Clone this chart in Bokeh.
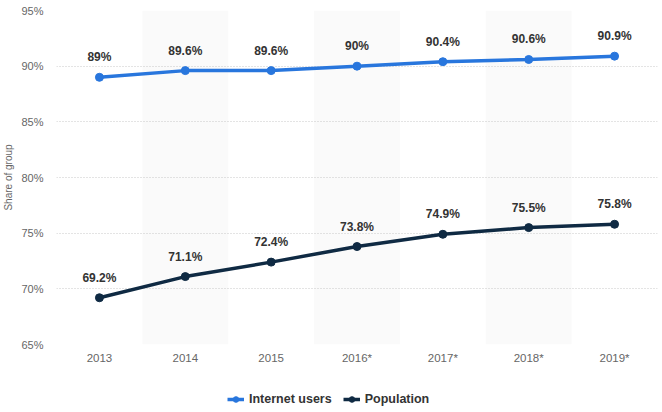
from bokeh.plotting import figure
from bokeh.layouts import column
from bokeh.models import (FactorRange, Range1d, FixedTicker, PrintfTickFormatter,
                          Legend, LegendItem)
from bokeh.core.properties import value
from bokeh.embed import file_html
from bokeh.resources import INLINE

years = ["2013", "2014", "2015", "2016*", "2017*", "2018*", "2019*"]
internet_users = [89.0, 89.6, 89.6, 90.0, 90.4, 90.6, 90.9]
population = [69.2, 71.1, 72.4, 73.8, 74.9, 75.5, 75.8]
internet_labels = ["89%", "89.6%", "89.6%", "90%", "90.4%", "90.6%", "90.9%"]
population_labels = ["69.2%", "71.1%", "72.4%", "73.8%", "74.9%", "75.5%", "75.8%"]
series_names = ["Internet users", "Population"]
shaded_years = ["2014", "2016*", "2018*"]
y_ticks = [65, 70, 75, 80, 85, 90, 95]
y_min, y_max = 65, 95

BLUE = "#2876dd"
NAVY = "#0f2a43"
FONT = "Liberation Sans"

p = figure(x_range=FactorRange(*years, range_padding=0),
           y_range=Range1d(y_min, y_max),
           width=662, height=385, output_backend="svg", toolbar_location=None,
           min_border_left=56, min_border_right=5, min_border_top=10,
           min_border_bottom=41)
p.outline_line_color = None
p.background_fill_color = "white"

# alternating bands
bands = p.vbar(x=shaded_years, top=y_max, bottom=y_min, width=1,
               fill_color="#fafafa", line_color=None)
bands.level = "image"

# grid
p.xgrid.visible = False
p.ygrid.grid_line_color = "#c8c8c8"
p.ygrid.grid_line_dash = "1 2"
p.ygrid.grid_line_width = 1

# axes
p.yaxis.ticker = FixedTicker(ticks=y_ticks)
p.yaxis.formatter = PrintfTickFormatter(format="%d%%")
for ax in (p.xaxis, p.yaxis):
    ax.axis_line_color = None
    ax.major_tick_line_color = None
    ax.minor_tick_line_color = None
    ax.major_tick_out = 0
    ax.major_tick_in = 0
    ax.minor_tick_out = 0
    ax.minor_tick_in = 0
    ax.major_label_text_font = FONT
    ax.major_label_text_color = "#666666"
p.yaxis.major_label_text_font_size = "11px"
p.yaxis.major_label_standoff = 13
p.yaxis.axis_label = "Share of group"
p.yaxis.axis_label_text_font = FONT
p.yaxis.axis_label_text_font_size = "10px"
p.yaxis.axis_label_text_font_style = "normal"
p.yaxis.axis_label_text_color = "#666666"
p.yaxis.axis_label_standoff = 4
p.xaxis.major_label_text_font_size = "11.5px"
p.xaxis.major_label_standoff = 7

# series
p.line(years, internet_users, line_width=3.5, color=BLUE)
p.scatter(years, internet_users, size=8, color=BLUE)
p.line(years, population, line_width=3.5, color=NAVY)
p.scatter(years, population, size=8, color=NAVY)

for vals, labs in ((internet_users, internet_labels), (population, population_labels)):
    p.text(x=years, y=vals, text=labs, text_align="center", text_baseline="middle",
           y_offset=-20, text_font=value(FONT), text_font_style="bold",
           text_font_size="12px", text_color="#333333")

# legend strip below the chart (its renderers lie outside its visible range)
lg = figure(width=662, height=27, output_backend="svg", toolbar_location=None,
            x_axis_type=None, y_axis_type=None,
            x_range=FactorRange(*years), y_range=Range1d(0, 1),
            min_border=0)
lg.outline_line_color = None
lg.xgrid.visible = False
lg.ygrid.visible = False
items = []
for name, vals, col in zip(series_names, (internet_users, population), (BLUE, NAVY)):
    lr = lg.line(x=years, y=vals, line_width=3.5, color=col)
    sr = lg.scatter(x=years, y=vals, size=8, color=col)
    items.append(LegendItem(label=name, renderers=[lr, sr]))
legend = Legend(items=items, orientation="horizontal", location=(171, 6),
                border_line_color=None, background_fill_alpha=0,
                padding=0, margin=0, spacing=11, glyph_width=17, glyph_height=14,
                label_height=14, label_standoff=5,
                label_text_font=FONT, label_text_font_size="12.5px",
                label_text_font_style="bold", label_text_color="#333333")
lg.add_layout(legend, "center")

layout = column(p, lg, spacing=0)
open("out.html", "w").write(file_html(layout, INLINE))
